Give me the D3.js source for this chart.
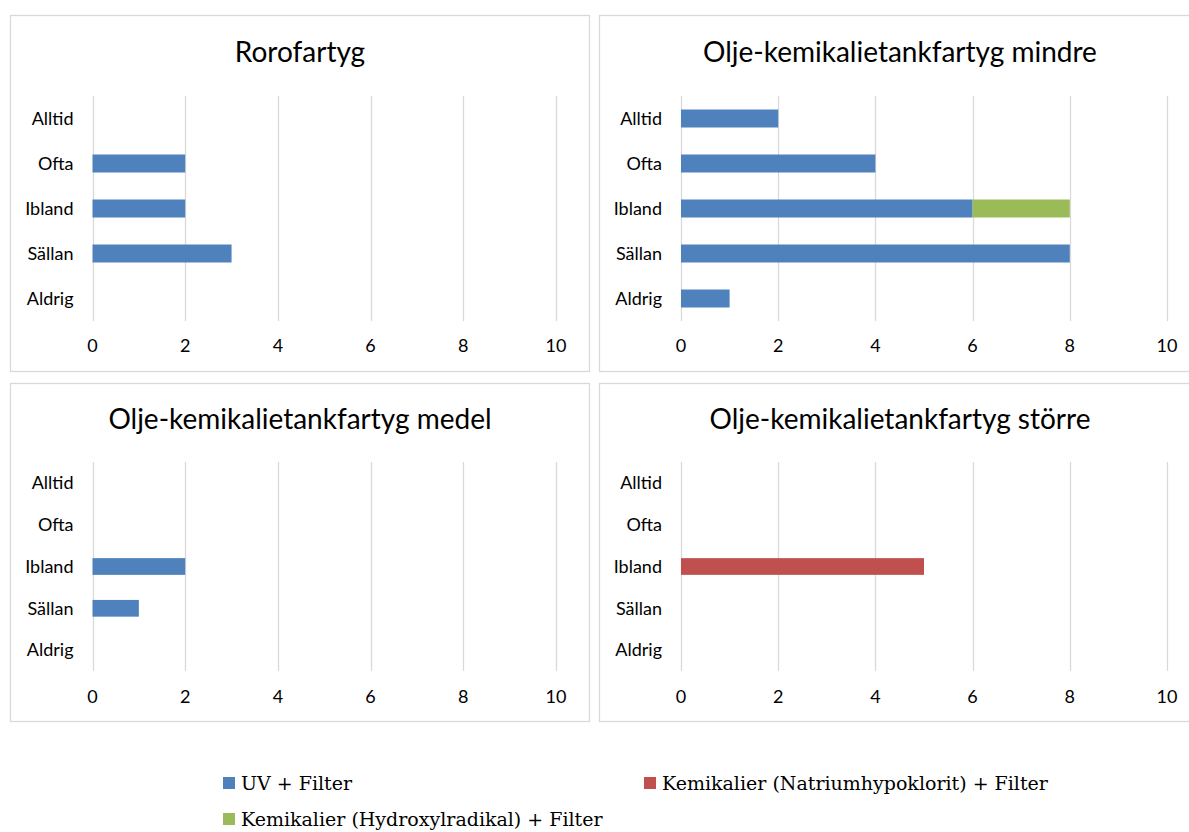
<!DOCTYPE html>
<html><head><meta charset="utf-8">
<script src="https://cdn.jsdelivr.net/npm/d3@7"></script>
<style>body{margin:0;background:#fff}svg{display:block}</style>
</head><body>
<svg id="c" width="1189" height="832"></svg>
<script>
const categories = ["Alltid","Ofta","Ibland","Sällan","Aldrig"];
const seriesNames = ["UV + Filter","Kemikalier (Natriumhypoklorit) + Filter","Kemikalier (Hydroxylradikal) + Filter"];
const seriesColors = ["#4F81BD","#C0504D","#9BBB59"];
const xTicks = [0,2,4,6,8,10];
const panelTitles = ["Rorofartyg","Olje-kemikalietankfartyg mindre","Olje-kemikalietankfartyg medel","Olje-kemikalietankfartyg större"];
// values per panel: [UV, Natrium, Hydroxyl] each by category
const roroUV = [0,2,2,3,0], roroNa = [0,0,0,0,0], roroOH = [0,0,0,0,0];
const mindreUV = [2,4,6,8,1], mindreNa = [0,0,0,0,0], mindreOH = [0,0,2,0,0];
const medelUV = [0,0,2,1,0], medelNa = [0,0,0,0,0], medelOH = [0,0,0,0,0];
const storreUV = [0,0,0,0,0], storreNa = [0,0,5,0,0], storreOH = [0,0,0,0,0];
const panelData = [[roroUV,roroNa,roroOH],[mindreUV,mindreNa,mindreOH],[medelUV,medelNa,medelOH],[storreUV,storreNa,storreOH]];

const layout = [
  {bx:10.5,by:15.5,bw:579,bh:356, px0:92.5,px1:556,py0:96,py1:321, ty:52, tky:346, tcx:300},
  {bx:599.5,by:15.5,bw:600,bh:356, px0:681,px1:1167,py0:96,py1:321, ty:52, tky:346, tcx:900},
  {bx:10.5,by:383.5,bw:579,bh:338, px0:92.5,px1:556,py0:462,py1:671, ty:419, tky:697, tcx:300},
  {bx:599.5,by:383.5,bw:600,bh:338, px0:681,px1:1167,py0:462,py1:671, ty:419, tky:697, tcx:900}
];
const svg = d3.select("#c");
const sansFont = "Lato, 'Open Sans', sans-serif";

layout.forEach((L,pi)=>{
  const g = svg.append("g");
  g.append("rect").attr("x",L.bx).attr("y",L.by).attr("width",L.bw).attr("height",L.bh)
   .attr("fill","#fff").attr("stroke","#D9D9D9").attr("stroke-width",1.3);
  const x = d3.scaleLinear().domain([0,10]).range([L.px0,L.px1]);
  const y = d3.scaleBand().domain(categories).range([L.py0,L.py1]).paddingInner(0.6).paddingOuter(0.3);
  g.selectAll(".grid").data(xTicks).enter().append("line")
   .attr("x1",d=>Math.round(x(d))+0.5).attr("x2",d=>Math.round(x(d))+0.5)
   .attr("y1",L.py0).attr("y2",L.py1).attr("stroke","#D9D9D9").attr("stroke-width",1.3);
  g.selectAll(".xt").data(xTicks).enter().append("text")
   .attr("x",d=>x(d)).attr("y",L.tky).attr("text-anchor","middle").attr("dy","0.35em")
   .attr("font-family",sansFont).attr("font-size",18).attr("fill","#000").text(d=>d);
  g.selectAll(".yt").data(categories).enter().append("text")
   .attr("x",L.px0-19).attr("y",d=>y(d)+y.bandwidth()/2).attr("text-anchor","end").attr("dy","0.35em")
   .attr("font-family",sansFont).attr("font-size",18).attr("fill","#000").text(d=>d);
  g.append("text").attr("x",L.tcx).attr("y",L.ty).attr("text-anchor","middle").attr("dy","0.35em")
   .attr("font-family",sansFont).attr("font-size",28).attr("fill","#000").text(panelTitles[pi]);
  const rows = categories.map((c,ci)=>{const o={cat:c}; seriesNames.forEach((s,si)=>o[s]=panelData[pi][si][ci]); return o;});
  const stack = d3.stack().keys(seriesNames)(rows);
  stack.forEach((layer,si)=>{
    g.selectAll(null).data(layer.filter(d=>d[1]>d[0])).enter().append("rect")
     .attr("x",d=>x(d[0])).attr("width",d=>x(d[1])-x(d[0]))
     .attr("y",d=>y(d.data.cat)).attr("height",y.bandwidth())
     .attr("fill",seriesColors[si]);
  });
});

const legendPos = [{x:223,y:783},{x:644,y:783},{x:223,y:819}];
const lg = svg.append("g");
seriesNames.forEach((s,i)=>{
  const p = legendPos[i];
  lg.append("rect").attr("x",p.x).attr("y",p.y-6).attr("width",12).attr("height",12).attr("fill",seriesColors[i]);
  lg.append("text").attr("x",p.x+18).attr("y",p.y).attr("dy","0.35em")
    .attr("font-family","'DejaVu Serif', 'Liberation Serif', serif").attr("font-size",19).attr("fill","#000").text(s);
});
</script>
</body></html>
